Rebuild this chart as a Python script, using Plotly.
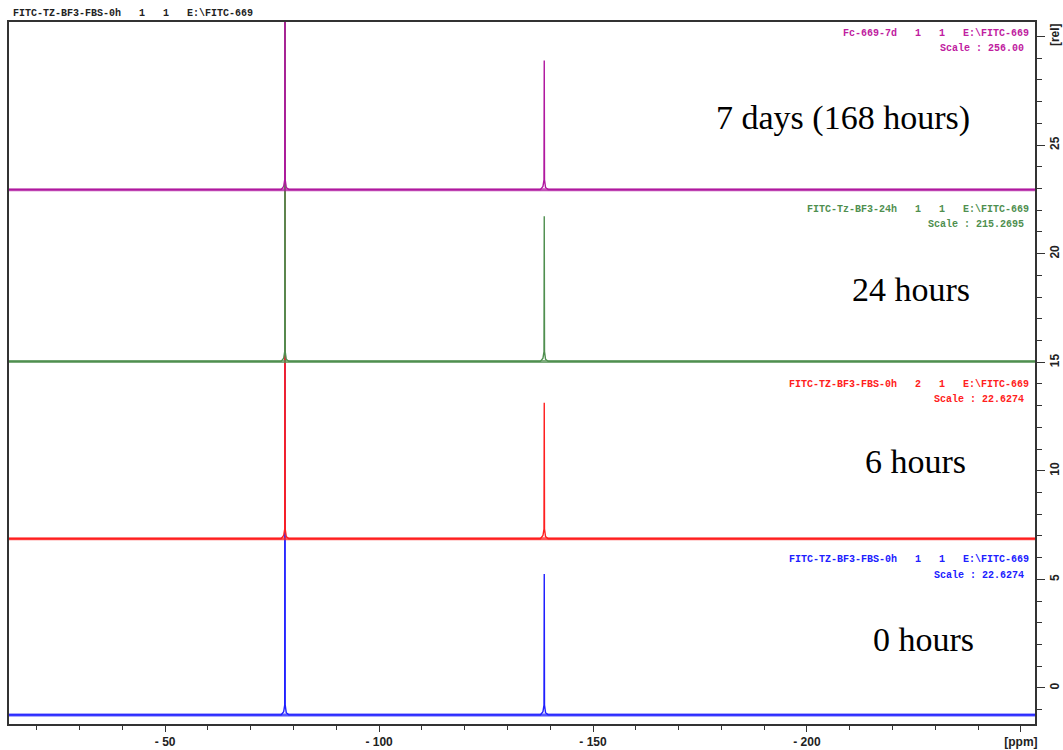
import plotly.graph_objects as go

# ---------------- data ----------------
spectrum_names = ["0 hours", "6 hours", "24 hours", "7 days (168 hours)"]
colors = ["#1f1fff", "#ff1f1f", "#4f8f4f", "#b0189f"]
label_colors = ["#2020ff", "#ff2020", "#4f8f4f", "#c0209f"]
baselines = [-1.24, 6.87, 15.04, 22.95]          # rel
peak1_ppm = -78.0
peak2_ppm = -138.6
peak1_height = [40.0, 40.0, 40.0, 40.0]           # off scale (clipped)
peak2_height = [5.25, 13.13, 21.72, 28.9]         # rel
foot_height = [0.25, 0.25, 0.25, 0.25]            # small shoulder at base of peaks
ppm_start, ppm_end = -13.5, -253.3

file_labels = [
    "FITC-TZ-BF3-FBS-0h   1   1   E:\\FITC-669",
    "FITC-TZ-BF3-FBS-0h   2   1   E:\\FITC-669",
    "FITC-Tz-BF3-24h   1   1   E:\\FITC-669",
    "Fc-669-7d   1   1   E:\\FITC-669",
]
scale_labels = ["Scale : 22.6274", "Scale : 22.6274", "Scale : 215.2695", "Scale : 256.00"]
file_label_y = [5.90, 13.96, 22.03, 30.14]
scale_label_y = [5.16, 13.27, 21.34, 29.45]
big_label_y = [2.21, 10.41, 18.34, 26.27]
big_label_right = [976, 968, 972, 972]            # px
title_text = "FITC-TZ-BF3-FBS-0h   1   1   E:\\FITC-669"

x_tickvals = [-50, -100, -150, -200, -250]
x_ticktext = ["- 50", "- 100", "- 150", "- 200", "[ppm]"]
y_tickvals = [0, 5, 10, 15, 20, 25, 30]
y_ticktext = ["0", "5", "10", "15", "20", "25", "[rel]"]

# ---------------- layout geometry ----------------
W, H = 1063, 750
L, R, T, B = 9, 1035, 22, 724
y_range = [-1.66, 30.67]


def px_x(px):
    return (px - L) / (R - L)


def px_y(py):
    return (B - py) / (B - T)


fig = go.Figure()

for i in range(4):
    b = baselines[i]
    f = foot_height[i]
    xs, ys = [ppm_start], [b]
    for p, h in ((peak1_ppm, peak1_height[i]), (peak2_ppm, peak2_height[i])):
        xs += [p + 0.9, p + 0.3, p + 0.06, p, p - 0.06, p - 0.3, p - 0.9]
        ys += [b, b + f * 0.6, b + f + 0.2, h, b + f + 0.2, b + f * 0.4, b]
    xs.append(ppm_end)
    ys.append(b)
    # thick noisy-looking baseline band
    fig.add_trace(go.Scatter(x=[ppm_start, ppm_end], y=[b, b], mode="lines",
                             line=dict(color=colors[i], width=3.0), opacity=0.75,
                             hoverinfo="skip", showlegend=False))
    fig.add_trace(go.Scatter(x=xs, y=ys, mode="lines", name=spectrum_names[i],
                             line=dict(color=colors[i], width=1.4), showlegend=False))

mono = "Liberation Mono, Courier New, monospace"
annotations = []
for i in range(4):
    annotations.append(dict(x=px_x(1031), xref="paper", y=file_label_y[i], yref="y",
                            text=file_labels[i], showarrow=False, xanchor="right", yanchor="middle",
                            font=dict(family=mono, size=10, color=label_colors[i], weight="bold")))
    annotations.append(dict(x=px_x(1026), xref="paper", y=scale_label_y[i], yref="y",
                            text=scale_labels[i], showarrow=False, xanchor="right", yanchor="middle",
                            font=dict(family=mono, size=10, color=label_colors[i], weight="bold")))
    annotations.append(dict(x=px_x(big_label_right[i]), xref="paper", y=big_label_y[i], yref="y",
                            text=spectrum_names[i], showarrow=False, xanchor="right", yanchor="middle",
                            font=dict(family="Liberation Serif, serif", size=34, color="black")))

annotations.append(dict(x=px_x(11), xref="paper", y=px_y(13), yref="paper",
                        text=title_text, showarrow=False, xanchor="left", yanchor="middle",
                        font=dict(family=mono, size=10, color="#222", weight="bold")))

axis_font = dict(family="Liberation Sans Narrow, Arial Narrow, Liberation Sans, sans-serif",
                 size=12, color="#222", weight="bold")

fig.update_layout(
    width=W, height=H,
    margin=dict(l=L, r=W - R, t=T, b=H - B, pad=0, autoexpand=False),
    paper_bgcolor="white", plot_bgcolor="white",
    annotations=annotations,
    xaxis=dict(range=[ppm_start, ppm_end], showgrid=False, zeroline=False, automargin=False,
               showline=True, mirror=True, linecolor="#333", linewidth=1.5,
               ticks="outside", ticklen=6, tickwidth=1.2, tickcolor="#333",
               tickvals=x_tickvals, ticktext=x_ticktext, tickfont=axis_font,
               minor=dict(dtick=10, tick0=0, ticks="outside", ticklen=4, tickwidth=1.2,
                          tickcolor="#333", showgrid=False)),
    yaxis=dict(range=y_range, side="right", showgrid=False, zeroline=False, automargin=False,
               showline=True, mirror=True, linecolor="#333", linewidth=1.5,
               ticks="outside", ticklen=8, tickwidth=1.2, tickcolor="#333",
               tickvals=y_tickvals, ticktext=y_ticktext, tickangle=-90, tickfont=axis_font,
               minor=dict(dtick=1, tick0=0, ticks="outside", ticklen=5, tickwidth=1.2,
                          tickcolor="#333", showgrid=False)),
)

fig.write_html("out.html")
